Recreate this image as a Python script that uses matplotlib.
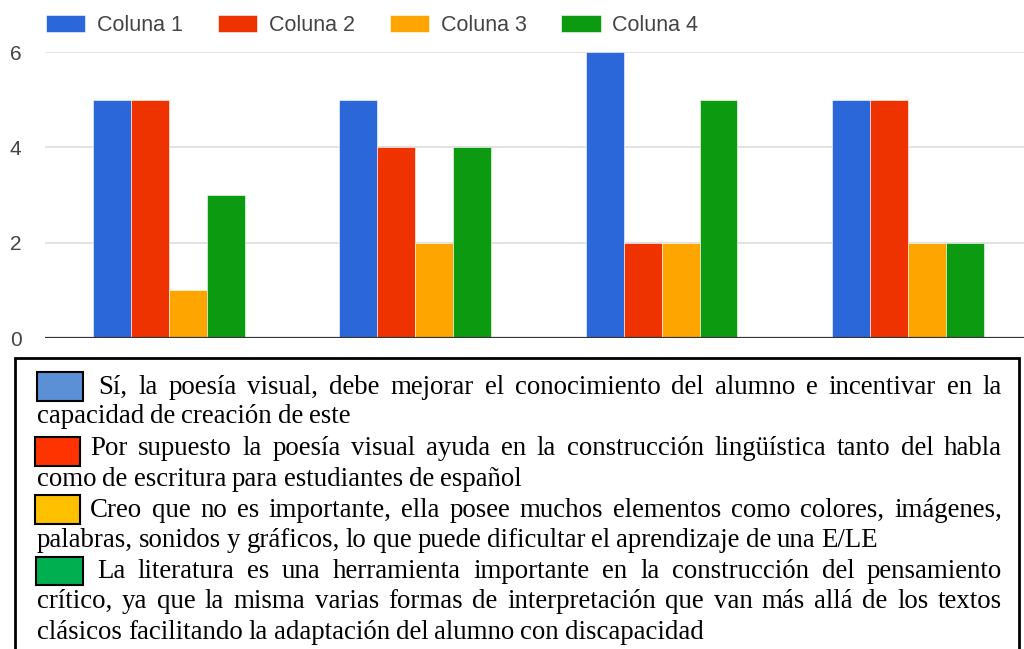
"""Grouped bar chart (Coluna 1-4) with a justified text key box below."""
import matplotlib.pyplot as plt
import matplotlib.patches as mpatches
from matplotlib.transforms import IdentityTransform
import numpy as np

series_names = ["Coluna 1", "Coluna 2", "Coluna 3", "Coluna 4"]
col1 = [5, 5, 6, 5]
col2 = [5, 4, 2, 5]
col3 = [1, 2, 2, 2]
col4 = [3, 4, 5, 2]
yticks = [0, 2, 4, 6]

chart_colors = ["#2b67d8", "#ee3300", "#ffa500", "#0c9a10"]
key_colors = ["#5b8fd6", "#ff3300", "#ffc000", "#00b050"]

key_lines = [
    ["Sí, la poesía visual, debe mejorar el conocimiento del alumno e incentivar en la",
     "capacidad de creación de este"],
    ["Por supuesto la poesía visual ayuda en la construcción lingüística tanto del habla",
     "como de escritura para estudiantes de español"],
    ["Creo que no es importante, ella posee muchos elementos como colores, imágenes,",
     "palabras, sonidos y gráficos, lo que puede dificultar el aprendizaje de una E/LE"],
    ["La literatura es una herramienta importante en la construcción del pensamiento",
     "crítico, ya que la misma varias formas de interpretación que van más allá de los textos",
     "clásicos facilitando la adaptación del alumno con discapacidad"],
]

W, H = 1024, 649
fig = plt.figure(figsize=(W / 100, H / 100), dpi=100)
ax = fig.add_axes([45 / W, (H - 338) / H, (W - 45) / W, (338 - 52) / H])

x = np.arange(4)
bw = 0.154
offsets = [-1.5 * bw, -0.5 * bw, 0.5 * bw, 1.5 * bw]
for vals, off, c, name in zip([col1, col2, col3, col4], offsets, chart_colors, series_names):
    ax.bar(x + off, vals, bw, color=c, label=name, edgecolor="white", linewidth=0.4, zorder=3)

ax.set_xlim(-0.503, 3.471)
ax.set_ylim(0, 6)
ax.set_yticks(yticks)
ax.set_xticks([])
ax.grid(axis="y", color="#dddddd", linewidth=1.2, zorder=0)
ax.axhline(0, color="#333333", linewidth=1.6, zorder=4)
for s in ax.spines.values():
    s.set_visible(False)
ax.tick_params(axis="y", length=0, pad=17, labelsize=15, labelcolor="#444444")
for lab in ax.get_yticklabels():
    lab.set_fontfamily("Liberation Sans")

fig.legend(loc="center left", bbox_to_anchor=(46 / W, (H - 25.5) / H), ncol=4,
           frameon=False, prop={"family": "Liberation Sans", "size": 15.5},
           labelcolor="#444444", handlelength=1.82, handleheight=0.8,
           handletextpad=0.55, columnspacing=1.62, borderpad=0, borderaxespad=0)

# key box below the chart, drawn in pixel coordinates
idt = IdentityTransform()
fig.patches.append(mpatches.Rectangle((15, -20), 1004, (H - 358) + 20, fill=False,
                                      edgecolor="black", linewidth=2, transform=idt, figure=fig))

FS = 19.4
renderer = fig.canvas.get_renderer()
space = 0.22 * FS * 100 / 72
baselines = [394, 423, 455, 486, 517, 547, 578, 608, 639]
first_x = [98, 90, 90, 97]
squares = [(37, 372, 46, 29), (35, 437, 45, 29), (35, 495, 45, 29), (36, 557, 47, 28)]
right_x = 1002

li = 0
for p, lines in enumerate(key_lines):
    sx, sy, sw, sh = squares[p]
    fig.patches.append(mpatches.Rectangle((sx, H - sy - sh), sw, sh, facecolor=key_colors[p],
                                          edgecolor="black", linewidth=1.5, transform=idt, figure=fig))
    for k, line in enumerate(lines):
        x0 = first_x[p] if k == 0 else 37
        y = H - baselines[li]
        li += 1
        words = line.split(" ")
        texts = [fig.text(0, y, w, transform=idt, fontsize=FS, family="Liberation Serif",
                          va="baseline", ha="left") for w in words]
        widths = [t.get_window_extent(renderer).width for t in texts]
        last = k == len(lines) - 1
        gap = space if last else (right_x - x0 - sum(widths)) / (len(words) - 1)
        cx = x0
        for t, w in zip(texts, widths):
            t.set_x(cx)
            cx += w + gap

fig.savefig("out.png", dpi=100)
